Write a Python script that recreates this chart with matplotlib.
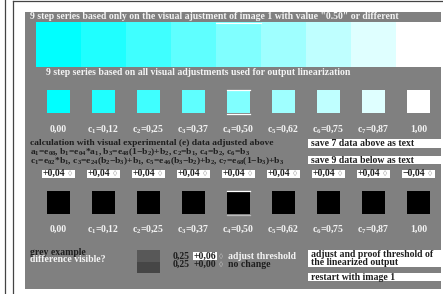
import matplotlib
matplotlib.use("Agg")
import matplotlib.pyplot as plt
from matplotlib.patches import Rectangle

plt.rcParams['mathtext.fontset'] = 'custom'
plt.rcParams['mathtext.rm'] = 'Liberation Serif:bold'
plt.rcParams['mathtext.it'] = 'Liberation Serif:bold'
plt.rcParams['mathtext.bf'] = 'Liberation Serif:bold'

FAM = ['Liberation Serif', 'DejaVu Sans']

# ---------------- data
step_colors = ['#00ffff', '#1fffff', '#3fffff', '#5fffff', '#80ffff',
               '#9fffff', '#bfffff', '#dfffff', '#ffffff']
lower_colors = ['#000000'] * 9
step_labels = ['0,00', 'c$_1$=0,12', 'c$_2$=0,25', 'c$_3$=0,37', 'c$_4$=0,50',
               'c$_5$=0,62', 'c$_6$=0,75', 'c$_7$=0,87', '1,00']
spin_values = ['+0,04'] * 8 + ['\u22120,04']
highlight = 4
grey_example = ['#585858', '#464646']
threshold_rows = [('0,25', '+0,06', 'adjust threshold'), ('0,25', '+0,00', 'no change')]

title1 = '9 step series based only on the visual ajustment of image 1 with value "0.50" or different'
title2 = '9 step series based on all visual adjustments used for output linearization'
calc_lines = ['calculation with visual experimental (e) data adjusted above',
              'a$_1$=e$_{08}$, b$_1$=e$_{04}$*a$_1$, b$_3$=e$_{48}$(1\u2212b$_2$)+b$_2$, '
              'c$_2$=b$_1$, c$_4$=b$_2$, c$_6$=b$_3$',
              'c$_1$=e$_{02}$*b$_1$, c$_3$=e$_{24}$(b$_2$\u2212b$_3$)+b$_1$, '
              'c$_5$=e$_{46}$(b$_3$\u2212b$_2$)+b$_2$, c$_7$=e$_{68}$(1\u2212b$_3$)+b$_3$']
buttons = [(139, 9, ['save 7 data above as text']),
           (156, 8, ['save 9 data below as text']),
           (250, 17, ['adjust and proof threshold of', 'the linearized output']),
           (273, 8, ['restart with image 1'])]

FS = 7
DARK = '#1e1e1e'
LIGHT = '#f4f4f4'

fig = plt.figure(figsize=(4.43, 2.94), dpi=100)
ax = fig.add_axes([0, 0, 1, 1])
ax.set_xlim(0, 443)
ax.set_ylim(294, 0)
ax.axis('off')


def txt(x, y, s, color=LIGHT, ha='left', fs=FS):
    # y is the visual middle of the text; place it by baseline
    ax.text(x, y + 2.9, s, color=color, ha=ha, va='baseline', fontsize=fs,
            fontweight='bold', family=FAM)


# frame lines
ax.plot([5.5, 5.5], [0, 294], color='#444444', lw=0.9)
ax.plot([13.5, 13.5], [1, 294], color='#444444', lw=0.9)
ax.plot([13.5, 443], [1, 1], color='#444444', lw=0.9)

# grey panel
ax.add_patch(Rectangle((25, 12), 416, 277, color='#808080', lw=0))

txt(30, 16.5, title1)
# big strip
for i, c in enumerate(step_colors):
    ax.add_patch(Rectangle((36 + 45 * i, 22), 45, 45, color=c, lw=0))
ax.plot([36 + 45 * highlight, 81 + 45 * highlight], [22.5, 22.5], color='#ffffff', lw=0.8)
txt(46, 72, title2)

# small squares rows
for row, (y0, cols) in enumerate([(90, step_colors), (191, lower_colors)]):
    for i, c in enumerate(cols):
        x0 = 47 + 45 * i
        ax.add_patch(Rectangle((x0, y0), 23, 23, color=c, lw=0))
        if i == highlight:
            ax.plot([x0, x0 + 23], [y0 - 0.5, y0 - 0.5], color='#ffffff', lw=0.9)
            ax.plot([x0, x0 + 23], [y0 + 23.5, y0 + 23.5],
                    color='#ffffff' if row == 0 else '#bbbbbb', lw=0.9)
        ly = 128.5 if row == 0 else 229
        txt(x0 + 11.5, ly, step_labels[i], ha='center')

# calculation text
for k, s in enumerate(calc_lines):
    txt(30, 142 + 9.2 * k, s, color=DARK, fs=6.8)

# spin boxes
for i, v in enumerate(spin_values):
    x0 = 42 + 45 * i
    ax.add_patch(Rectangle((x0, 169.5), 33, 8, color='white', lw=0))
    txt(x0 + 1, 173, v, color=DARK)
    txt(x0 + 28, 173, '\u25ca', color='#aaaaaa', ha='center', fs=6)

# buttons on the right
for y0, h, lines in buttons:
    ax.add_patch(Rectangle((308, y0), 135, h, color='white', lw=0))
    for k, s in enumerate(lines):
        txt(311, y0 + 4 + 8 * k, s, color=DARK)

# grey example
txt(30, 252, 'grey example', color=DARK)
txt(30, 259.5, 'difference visible?')
ax.add_patch(Rectangle((137, 250), 23, 12, color=grey_example[0], lw=0))
ax.add_patch(Rectangle((137, 262), 23, 11, color=grey_example[1], lw=0))
for k, (a, b, c) in enumerate(threshold_rows):
    y = 256 + 8 * k
    txt(173, y, a, color=DARK)
    if k == 0:
        ax.add_patch(Rectangle((193, y - 4), 24, 8, color='white', lw=0))
    txt(193.5, y, b, color=DARK)
    txt(221, y, '\u25ca', color='#bbbbbb', ha='center', fs=6)
    txt(228, y, c, color=LIGHT if k == 0 else DARK)

fig.savefig('out.png', dpi=100)
